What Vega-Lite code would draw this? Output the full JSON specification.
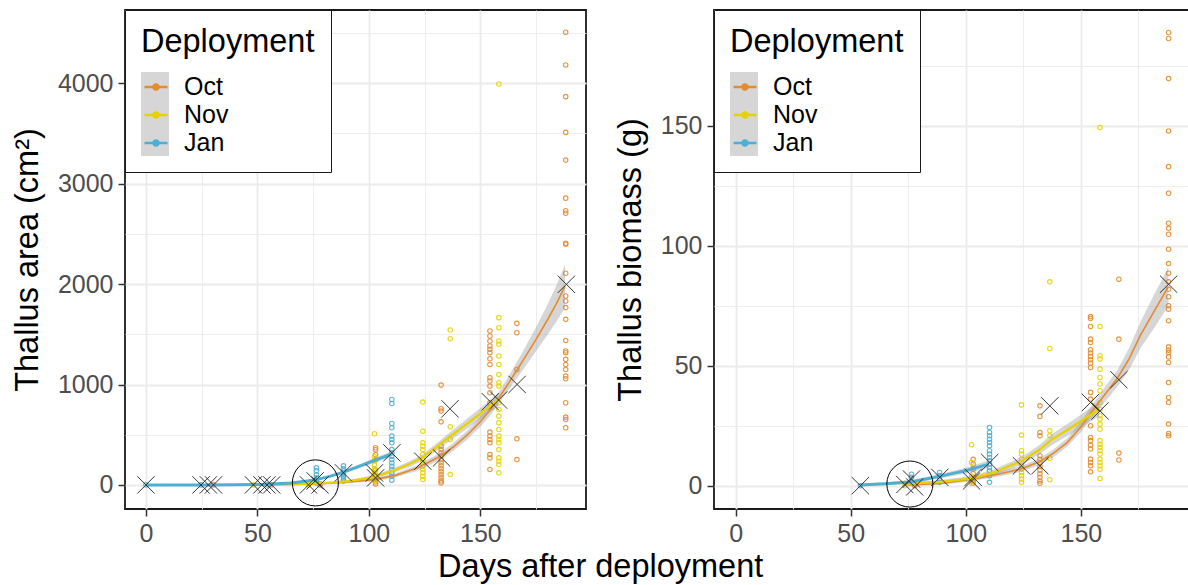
{
  "$schema": "https://vega.github.io/schema/vega-lite/v6.json",
  "background": "white",
  "padding": {"left": 10, "top": 8, "right": 0, "bottom": 0},
  "autosize": {"type": "pad"},
  "config": {
    "font": "Liberation Sans",
    "view": {"stroke": "#1a1a1a", "strokeWidth": 1.8},
    "axis": {
      "domain": false,
      "gridColor": "#EBEBEB",
      "tickColor": "#333333",
      "tickSize": 7,
      "tickWidth": 1.5,
      "labelFont": "Liberation Sans",
      "labelFontSize": 25,
      "labelColor": "#4D4D4D",
      "labelPadding": 5,
      "labelFlush": false,
      "labelOverlap": false,
      "titleFont": "Liberation Sans",
      "titleFontSize": 32.5,
      "titleFontWeight": "normal",
      "titleColor": "black",
      "titlePadding": 13
    },
    "legend": {
      "orient": "none",
      "legendX": 0,
      "legendY": 0,
      "padding": 16,
      "titleFont": "Liberation Sans",
      "titleFontSize": 32.5,
      "titleFontWeight": "normal",
      "titleColor": "black",
      "titlePadding": 13.5,
      "labelFont": "Liberation Sans",
      "labelFontSize": 25,
      "labelColor": "black",
      "labelOffset": 13,
      "rowPadding": 0
    }
  },
  "title": {
    "text": "Days after deployment",
    "orient": "bottom",
    "anchor": "middle",
    "font": "Liberation Sans",
    "fontSize": 32.5,
    "fontWeight": "normal",
    "color": "black",
    "offset": 4
  },
  "datasets": {
    "aPts": [
      {"d":"Oct","t":188.3,"v":4509},{"d":"Oct","t":188.3,"v":4183},{"d":"Oct","t":188.3,"v":3867},{"d":"Oct","t":188.3,"v":3511},{"d":"Oct","t":188.3,"v":3235},{"d":"Oct","t":188.3,"v":2856},{"d":"Oct","t":188.3,"v":2730},{"d":"Oct","t":188.3,"v":2706},{"d":"Oct","t":188.3,"v":2407},{"d":"Oct","t":188.3,"v":2397},{"d":"Oct","t":188.3,"v":2108},{"d":"Oct","t":188.3,"v":1882},{"d":"Oct","t":188.3,"v":1832},{"d":"Oct","t":188.3,"v":1766},{"d":"Oct","t":188.3,"v":1649},{"d":"Oct","t":188.3,"v":1439},{"d":"Oct","t":188.3,"v":1334},{"d":"Oct","t":188.3,"v":1317},{"d":"Oct","t":188.3,"v":1250},{"d":"Oct","t":188.3,"v":1200},{"d":"Oct","t":188.3,"v":1150},{"d":"Oct","t":188.3,"v":1084},{"d":"Oct","t":188.3,"v":1057},{"d":"Oct","t":188.3,"v":818},{"d":"Oct","t":188.3,"v":675},{"d":"Oct","t":188.3,"v":651},{"d":"Oct","t":188.3,"v":569},
      {"d":"Oct","t":166.4,"v":1609},{"d":"Oct","t":166.4,"v":1516},{"d":"Oct","t":166.4,"v":1150},{"d":"Oct","t":166.4,"v":459},{"d":"Oct","t":166.4,"v":252},
      {"d":"Oct","t":154.3,"v":1533},{"d":"Oct","t":154.3,"v":1483},{"d":"Oct","t":154.3,"v":1433},{"d":"Oct","t":154.3,"v":1383},{"d":"Oct","t":154.3,"v":1350},{"d":"Oct","t":154.3,"v":1317},{"d":"Oct","t":154.3,"v":1257},{"d":"Oct","t":154.3,"v":1200},{"d":"Oct","t":154.3,"v":1067},{"d":"Oct","t":154.3,"v":1034},{"d":"Oct","t":154.3,"v":984},{"d":"Oct","t":154.3,"v":918},{"d":"Oct","t":154.3,"v":818},{"d":"Oct","t":154.3,"v":768},{"d":"Oct","t":154.3,"v":526},{"d":"Oct","t":154.3,"v":486},{"d":"Oct","t":154.3,"v":452},{"d":"Oct","t":154.3,"v":419},{"d":"Oct","t":154.3,"v":302},{"d":"Oct","t":154.3,"v":269},{"d":"Oct","t":154.3,"v":153},
      {"d":"Oct","t":132.4,"v":994},{"d":"Oct","t":132.4,"v":758},{"d":"Oct","t":132.4,"v":735},{"d":"Oct","t":132.4,"v":628},{"d":"Oct","t":132.4,"v":386},{"d":"Oct","t":132.4,"v":352},{"d":"Oct","t":132.4,"v":320},{"d":"Oct","t":132.4,"v":290},{"d":"Oct","t":132.4,"v":250},{"d":"Oct","t":132.4,"v":220},{"d":"Oct","t":132.4,"v":190},{"d":"Oct","t":132.4,"v":160},{"d":"Oct","t":132.4,"v":130},{"d":"Oct","t":132.4,"v":100},{"d":"Oct","t":132.4,"v":70},{"d":"Oct","t":132.4,"v":40},{"d":"Oct","t":132.4,"v":20},
      {"d":"Oct","t":103,"v":370},{"d":"Oct","t":103,"v":350},{"d":"Oct","t":103,"v":300},{"d":"Oct","t":103,"v":250},{"d":"Oct","t":103,"v":150},{"d":"Oct","t":103,"v":100},{"d":"Oct","t":103,"v":60},{"d":"Oct","t":103,"v":30},{"d":"Oct","t":103,"v":10},
      {"d":"Oct","t":30.3,"v":0},{"d":"Oct","t":56.4,"v":0},{"d":"Oct","t":78.1,"v":0},{"d":"Oct","t":78.1,"v":10},
      {"d":"Nov","t":158.3,"v":3993},{"d":"Nov","t":158.3,"v":1666},{"d":"Nov","t":158.3,"v":1566},{"d":"Nov","t":158.3,"v":1433},{"d":"Nov","t":158.3,"v":1400},{"d":"Nov","t":158.3,"v":1284},{"d":"Nov","t":158.3,"v":1200},{"d":"Nov","t":158.3,"v":1100},{"d":"Nov","t":158.3,"v":1017},{"d":"Nov","t":158.3,"v":984},{"d":"Nov","t":158.3,"v":818},{"d":"Nov","t":158.3,"v":751},{"d":"Nov","t":158.3,"v":685},{"d":"Nov","t":158.3,"v":618},{"d":"Nov","t":158.3,"v":552},{"d":"Nov","t":158.3,"v":486},{"d":"Nov","t":158.3,"v":452},{"d":"Nov","t":158.3,"v":419},{"d":"Nov","t":158.3,"v":352},{"d":"Nov","t":158.3,"v":269},{"d":"Nov","t":158.3,"v":236},{"d":"Nov","t":158.3,"v":203},{"d":"Nov","t":158.3,"v":120},
      {"d":"Nov","t":136.5,"v":1543},{"d":"Nov","t":136.5,"v":1456},{"d":"Nov","t":136.5,"v":579},{"d":"Nov","t":136.5,"v":452},{"d":"Nov","t":136.5,"v":103},
      {"d":"Nov","t":124.2,"v":825},{"d":"Nov","t":124.2,"v":535},{"d":"Nov","t":124.2,"v":419},{"d":"Nov","t":124.2,"v":386},{"d":"Nov","t":124.2,"v":352},{"d":"Nov","t":124.2,"v":303},{"d":"Nov","t":124.2,"v":252},{"d":"Nov","t":124.2,"v":219},{"d":"Nov","t":124.2,"v":186},{"d":"Nov","t":124.2,"v":153},{"d":"Nov","t":124.2,"v":120},{"d":"Nov","t":124.2,"v":87},{"d":"Nov","t":124.2,"v":53},
      {"d":"Nov","t":102.5,"v":509},{"d":"Nov","t":102.5,"v":280},{"d":"Nov","t":102.5,"v":240},{"d":"Nov","t":102.5,"v":200},{"d":"Nov","t":102.5,"v":160},{"d":"Nov","t":102.5,"v":140},{"d":"Nov","t":102.5,"v":120},{"d":"Nov","t":102.5,"v":100},{"d":"Nov","t":102.5,"v":80},{"d":"Nov","t":102.5,"v":60},{"d":"Nov","t":102.5,"v":40},
      {"d":"Nov","t":48.2,"v":0},{"d":"Nov","t":72.9,"v":0},{"d":"Nov","t":72.9,"v":10},
      {"d":"Jan","t":110.3,"v":851},{"d":"Jan","t":110.3,"v":811},{"d":"Jan","t":110.3,"v":612},{"d":"Jan","t":110.3,"v":569},{"d":"Jan","t":110.3,"v":486},{"d":"Jan","t":110.3,"v":452},{"d":"Jan","t":110.3,"v":419},{"d":"Jan","t":110.3,"v":352},{"d":"Jan","t":110.3,"v":319},{"d":"Jan","t":110.3,"v":286},{"d":"Jan","t":110.3,"v":252},{"d":"Jan","t":110.3,"v":219},{"d":"Jan","t":110.3,"v":186},{"d":"Jan","t":110.3,"v":153},{"d":"Jan","t":110.3,"v":120},{"d":"Jan","t":110.3,"v":87},{"d":"Jan","t":110.3,"v":47},
      {"d":"Jan","t":88.6,"v":190},{"d":"Jan","t":88.6,"v":160},{"d":"Jan","t":88.6,"v":140},{"d":"Jan","t":88.6,"v":120},{"d":"Jan","t":88.6,"v":100},{"d":"Jan","t":88.6,"v":80},{"d":"Jan","t":88.6,"v":60},{"d":"Jan","t":88.6,"v":40},
      {"d":"Jan","t":76.5,"v":170},{"d":"Jan","t":76.5,"v":140},{"d":"Jan","t":76.5,"v":100},{"d":"Jan","t":76.5,"v":70},{"d":"Jan","t":76.5,"v":40},{"d":"Jan","t":76.5,"v":20},
      {"d":"Jan","t":0,"v":0},{"d":"Jan","t":24.7,"v":0},{"d":"Jan","t":54.3,"v":0}
    ],
    "aFit": [
      {"d":"Oct","t":30,"v":0,"lo":-2,"hi":2},{"d":"Oct","t":45,"v":1,"lo":-2,"hi":4},{"d":"Oct","t":56,"v":2,"lo":-2,"hi":6},{"d":"Oct","t":70,"v":7,"lo":1,"hi":13},{"d":"Oct","t":78,"v":12,"lo":4,"hi":20},{"d":"Oct","t":90,"v":28,"lo":16,"hi":40},{"d":"Oct","t":103,"v":55,"lo":39,"hi":71},{"d":"Oct","t":112,"v":95,"lo":75,"hi":115},{"d":"Oct","t":122,"v":170,"lo":142,"hi":198},{"d":"Oct","t":132,"v":285,"lo":250,"hi":320},{"d":"Oct","t":138,"v":380,"lo":340,"hi":420},{"d":"Oct","t":144,"v":495,"lo":450,"hi":540},{"d":"Oct","t":150,"v":630,"lo":580,"hi":680},{"d":"Oct","t":154,"v":735,"lo":680,"hi":790},{"d":"Oct","t":158,"v":855,"lo":795,"hi":915},{"d":"Oct","t":162,"v":990,"lo":922,"hi":1058},{"d":"Oct","t":166,"v":1130,"lo":1052,"hi":1208},{"d":"Oct","t":170,"v":1270,"lo":1175,"hi":1365},{"d":"Oct","t":175,"v":1450,"lo":1330,"hi":1570},{"d":"Oct","t":180,"v":1640,"lo":1490,"hi":1790},{"d":"Oct","t":184,"v":1800,"lo":1620,"hi":1980},{"d":"Oct","t":188,"v":1980,"lo":1765,"hi":2195},
      {"d":"Nov","t":48,"v":0,"lo":-3,"hi":3},{"d":"Nov","t":60,"v":3,"lo":-1,"hi":7},{"d":"Nov","t":73,"v":10,"lo":4,"hi":16},{"d":"Nov","t":85,"v":25,"lo":15,"hi":35},{"d":"Nov","t":92,"v":40,"lo":28,"hi":52},{"d":"Nov","t":102,"v":78,"lo":60,"hi":96},{"d":"Nov","t":110,"v":135,"lo":113,"hi":157},{"d":"Nov","t":118,"v":205,"lo":177,"hi":233},{"d":"Nov","t":124,"v":272,"lo":240,"hi":304},{"d":"Nov","t":130,"v":370,"lo":332,"hi":408},{"d":"Nov","t":136,"v":475,"lo":433,"hi":517},{"d":"Nov","t":142,"v":575,"lo":527,"hi":623},{"d":"Nov","t":150,"v":710,"lo":655,"hi":765},{"d":"Nov","t":158,"v":850,"lo":785,"hi":915},
      {"d":"Jan","t":0,"v":0,"lo":-2,"hi":2},{"d":"Jan","t":25,"v":0,"lo":-3,"hi":3},{"d":"Jan","t":40,"v":2,"lo":-2,"hi":6},{"d":"Jan","t":54,"v":6,"lo":1,"hi":11},{"d":"Jan","t":65,"v":20,"lo":14,"hi":26},{"d":"Jan","t":76,"v":50,"lo":41,"hi":59},{"d":"Jan","t":82,"v":82,"lo":71,"hi":93},{"d":"Jan","t":88,"v":122,"lo":108,"hi":136},{"d":"Jan","t":95,"v":180,"lo":162,"hi":198},{"d":"Jan","t":102,"v":240,"lo":218,"hi":262},{"d":"Jan","t":110,"v":305,"lo":277,"hi":333}
    ],
    "aMean": [
      {"d":"Jan","t":0,"v":0},{"d":"Jan","t":24.7,"v":0},{"d":"Jan","t":54.3,"v":0},{"d":"Jan","t":75.9,"v":40},{"d":"Jan","t":88.6,"v":120},{"d":"Jan","t":110.3,"v":319},
      {"d":"Nov","t":28,"v":0},{"d":"Nov","t":48.2,"v":0},{"d":"Nov","t":72.9,"v":0},{"d":"Nov","t":102.5,"v":120},{"d":"Nov","t":124.2,"v":236},{"d":"Nov","t":136.4,"v":758},{"d":"Nov","t":158.2,"v":845},
      {"d":"Oct","t":30.3,"v":0},{"d":"Oct","t":52,"v":0},{"d":"Oct","t":56.4,"v":0},{"d":"Oct","t":78.1,"v":0},{"d":"Oct","t":103,"v":70},{"d":"Oct","t":132.6,"v":269},{"d":"Oct","t":154.5,"v":828},{"d":"Oct","t":166.5,"v":1001},{"d":"Oct","t":188.6,"v":1998}
    ],
    "aCirc": [{"t":76,"v":20}],
    "bPts": [
      {"d":"Oct","t":188.1,"v":188.9},{"d":"Oct","t":188.1,"v":186.4},{"d":"Oct","t":188.1,"v":169.7},{"d":"Oct","t":188.1,"v":147.9},{"d":"Oct","t":188.1,"v":133},{"d":"Oct","t":188.1,"v":121.9},{"d":"Oct","t":188.1,"v":109.4},{"d":"Oct","t":188.1,"v":107.3},{"d":"Oct","t":188.1,"v":104.8},{"d":"Oct","t":188.1,"v":98.6},{"d":"Oct","t":188.1,"v":92.6},{"d":"Oct","t":188.1,"v":88.6},{"d":"Oct","t":188.1,"v":85},{"d":"Oct","t":188.1,"v":81.9},{"d":"Oct","t":188.1,"v":78.8},{"d":"Oct","t":188.1,"v":75},{"d":"Oct","t":188.1,"v":73.6},{"d":"Oct","t":188.1,"v":68.8},{"d":"Oct","t":188.1,"v":57.9},{"d":"Oct","t":188.1,"v":56.5},{"d":"Oct","t":188.1,"v":55.5},{"d":"Oct","t":188.1,"v":53.7},{"d":"Oct","t":188.1,"v":51.4},{"d":"Oct","t":188.1,"v":43},{"d":"Oct","t":188.1,"v":36.8},{"d":"Oct","t":188.1,"v":34.7},{"d":"Oct","t":188.1,"v":25.7},{"d":"Oct","t":188.1,"v":21.8},{"d":"Oct","t":188.1,"v":20.8},
      {"d":"Oct","t":166.5,"v":86.1},{"d":"Oct","t":166.5,"v":61.1},{"d":"Oct","t":166.5,"v":13.6},{"d":"Oct","t":166.5,"v":10.7},
      {"d":"Oct","t":154.2,"v":70.5},{"d":"Oct","t":154.2,"v":69.7},{"d":"Oct","t":154.2,"v":66.4},{"d":"Oct","t":154.2,"v":61.1},{"d":"Oct","t":154.2,"v":59.7},{"d":"Oct","t":154.2,"v":56.7},{"d":"Oct","t":154.2,"v":55.3},{"d":"Oct","t":154.2,"v":53.9},{"d":"Oct","t":154.2,"v":52.5},{"d":"Oct","t":154.2,"v":51.1},{"d":"Oct","t":154.2,"v":49.3},{"d":"Oct","t":154.2,"v":38.9},{"d":"Oct","t":154.2,"v":36.1},{"d":"Oct","t":154.2,"v":25},{"d":"Oct","t":154.2,"v":20.1},{"d":"Oct","t":154.2,"v":18.8},{"d":"Oct","t":154.2,"v":16.9},{"d":"Oct","t":154.2,"v":15.3},{"d":"Oct","t":154.2,"v":11.1},{"d":"Oct","t":154.2,"v":9.7},{"d":"Oct","t":154.2,"v":8.3},{"d":"Oct","t":154.2,"v":5.8},
      {"d":"Oct","t":132.2,"v":33.3},{"d":"Oct","t":132.2,"v":28.9},{"d":"Oct","t":132.2,"v":22.2},{"d":"Oct","t":132.2,"v":20.8},{"d":"Oct","t":132.2,"v":12.5},{"d":"Oct","t":132.2,"v":11},{"d":"Oct","t":132.2,"v":9.5},{"d":"Oct","t":132.2,"v":8},{"d":"Oct","t":132.2,"v":6.5},{"d":"Oct","t":132.2,"v":5},{"d":"Oct","t":132.2,"v":3.5},{"d":"Oct","t":132.2,"v":2},{"d":"Oct","t":132.2,"v":1},
      {"d":"Oct","t":103.2,"v":11},{"d":"Oct","t":103.2,"v":9},{"d":"Oct","t":103.2,"v":7},{"d":"Oct","t":103.2,"v":5},{"d":"Oct","t":103.2,"v":3},{"d":"Oct","t":103.2,"v":2},{"d":"Oct","t":103.2,"v":1},
      {"d":"Oct","t":77.8,"v":0},
      {"d":"Nov","t":158.3,"v":149.3},{"d":"Nov","t":158.3,"v":66.4},{"d":"Nov","t":158.3,"v":54.2},{"d":"Nov","t":158.3,"v":52.8},{"d":"Nov","t":158.3,"v":48.6},{"d":"Nov","t":158.3,"v":45.1},{"d":"Nov","t":158.3,"v":42.4},{"d":"Nov","t":158.3,"v":39.6},{"d":"Nov","t":158.3,"v":34.7},{"d":"Nov","t":158.3,"v":31.9},{"d":"Nov","t":158.3,"v":29.2},{"d":"Nov","t":158.3,"v":27.8},{"d":"Nov","t":158.3,"v":25.7},{"d":"Nov","t":158.3,"v":23.6},{"d":"Nov","t":158.3,"v":18.8},{"d":"Nov","t":158.3,"v":17.3},{"d":"Nov","t":158.3,"v":16},{"d":"Nov","t":158.3,"v":14.6},{"d":"Nov","t":158.3,"v":13.2},{"d":"Nov","t":158.3,"v":11.1},{"d":"Nov","t":158.3,"v":9.7},{"d":"Nov","t":158.3,"v":8.3},{"d":"Nov","t":158.3,"v":6.9},{"d":"Nov","t":158.3,"v":3},
      {"d":"Nov","t":136.5,"v":85},{"d":"Nov","t":136.5,"v":57.2},{"d":"Nov","t":136.5,"v":22.9},{"d":"Nov","t":136.5,"v":20.8},{"d":"Nov","t":136.5,"v":11.4},{"d":"Nov","t":136.5,"v":2.5},
      {"d":"Nov","t":124.2,"v":33.7},{"d":"Nov","t":124.2,"v":21.1},{"d":"Nov","t":124.2,"v":14.6},{"d":"Nov","t":124.2,"v":13.2},{"d":"Nov","t":124.2,"v":11.1},{"d":"Nov","t":124.2,"v":9.7},{"d":"Nov","t":124.2,"v":8.3},{"d":"Nov","t":124.2,"v":6.9},{"d":"Nov","t":124.2,"v":5.5},{"d":"Nov","t":124.2,"v":4.2},{"d":"Nov","t":124.2,"v":2.8},{"d":"Nov","t":124.2,"v":1.4},
      {"d":"Nov","t":102.5,"v":17.1},{"d":"Nov","t":102.5,"v":9.7},{"d":"Nov","t":102.5,"v":4},{"d":"Nov","t":102.5,"v":3},{"d":"Nov","t":102.5,"v":2},{"d":"Nov","t":102.5,"v":1},
      {"d":"Nov","t":73.5,"v":0},{"d":"Nov","t":73.5,"v":1},
      {"d":"Jan","t":110.3,"v":24.3},{"d":"Jan","t":110.3,"v":22.2},{"d":"Jan","t":110.3,"v":20.8},{"d":"Jan","t":110.3,"v":19.4},{"d":"Jan","t":110.3,"v":18},{"d":"Jan","t":110.3,"v":16.7},{"d":"Jan","t":110.3,"v":14.6},{"d":"Jan","t":110.3,"v":13.2},{"d":"Jan","t":110.3,"v":11.8},{"d":"Jan","t":110.3,"v":10.4},{"d":"Jan","t":110.3,"v":9},{"d":"Jan","t":110.3,"v":7.6},{"d":"Jan","t":110.3,"v":6.2},{"d":"Jan","t":110.3,"v":4.2},{"d":"Jan","t":110.3,"v":1.4},
      {"d":"Jan","t":88.6,"v":5.5},{"d":"Jan","t":88.6,"v":4.2},{"d":"Jan","t":88.6,"v":2.8},{"d":"Jan","t":88.6,"v":1.4},
      {"d":"Jan","t":76.4,"v":4.8},{"d":"Jan","t":76.4,"v":3.5},{"d":"Jan","t":76.4,"v":1.4},
      {"d":"Jan","t":54.2,"v":0}
    ],
    "bFit": [
      {"d":"Oct","t":75,"v":0.3,"lo":-0.2,"hi":0.8},{"d":"Oct","t":89,"v":1,"lo":0.4,"hi":1.6},{"d":"Oct","t":103,"v":2.8,"lo":2,"hi":3.6},{"d":"Oct","t":115,"v":5,"lo":4,"hi":6},{"d":"Oct","t":124,"v":7,"lo":5.8,"hi":8.2},{"d":"Oct","t":132,"v":10,"lo":8.6,"hi":11.4},{"d":"Oct","t":138,"v":13.5,"lo":11.9,"hi":15.1},{"d":"Oct","t":144,"v":18,"lo":16.2,"hi":19.8},{"d":"Oct","t":150,"v":24.5,"lo":22.3,"hi":26.7},{"d":"Oct","t":154,"v":30,"lo":27.5,"hi":32.5},{"d":"Oct","t":160,"v":37.5,"lo":34.5,"hi":40.5},{"d":"Oct","t":166,"v":45,"lo":41.5,"hi":48.5},{"d":"Oct","t":171,"v":53,"lo":48.5,"hi":57.5},{"d":"Oct","t":176,"v":63,"lo":57.5,"hi":68.5},{"d":"Oct","t":182,"v":73,"lo":66,"hi":80},{"d":"Oct","t":188,"v":83,"lo":75,"hi":91},
      {"d":"Nov","t":73,"v":0.8,"lo":0,"hi":1.6},{"d":"Nov","t":88,"v":1.5,"lo":0.7,"hi":2.3},{"d":"Nov","t":102,"v":3,"lo":2,"hi":4},{"d":"Nov","t":112,"v":5.5,"lo":4.2,"hi":6.8},{"d":"Nov","t":124,"v":10.2,"lo":8.6,"hi":11.8},{"d":"Nov","t":132,"v":15,"lo":13,"hi":17},{"d":"Nov","t":137,"v":19,"lo":16.7,"hi":21.3},{"d":"Nov","t":147,"v":25,"lo":22.4,"hi":27.6},{"d":"Nov","t":158,"v":32,"lo":29,"hi":35},
      {"d":"Jan","t":54,"v":0.3,"lo":-0.3,"hi":0.9},{"d":"Jan","t":65,"v":0.8,"lo":0.2,"hi":1.4},{"d":"Jan","t":76,"v":1.6,"lo":0.9,"hi":2.3},{"d":"Jan","t":88,"v":3.8,"lo":2.9,"hi":4.7},{"d":"Jan","t":100,"v":6.3,"lo":5.1,"hi":7.5},{"d":"Jan","t":110,"v":9,"lo":7.4,"hi":10.6}
    ],
    "bMean": [
      {"d":"Jan","t":54.2,"v":0},{"d":"Nov","t":73.5,"v":0.5},{"d":"Jan","t":76.4,"v":2.8},{"d":"Oct","t":77.8,"v":-0.5},{"d":"Jan","t":88.7,"v":3.5},{"d":"Nov","t":102.5,"v":2},{"d":"Oct","t":103.2,"v":3.5},{"d":"Jan","t":110.4,"v":9.7},{"d":"Nov","t":124.2,"v":8.3},{"d":"Oct","t":132.2,"v":8.3},{"d":"Nov","t":136.5,"v":33.3},{"d":"Oct","t":154.2,"v":34.7},{"d":"Nov","t":158.3,"v":31.2},{"d":"Oct","t":166.5,"v":44.2},{"d":"Oct","t":188.1,"v":84}
    ],
    "bCirc": [{"t":75.7,"v":0.7}]
  },
  "spacing": 26,
  "resolve": {"scale": {"x": "independent", "y": "independent"}, "legend": {"color": "independent", "fill": "independent"}},
  "hconcat": [
    {
      "width": 461,
      "height": 499,
      "encoding": {
        "x": {
          "field": "t", "type": "quantitative",
          "scale": {"domain": [-9.4, 197.4], "nice": false, "zero": false},
          "axis": {
            "title": null,
            "values": [0, 25, 50, 75, 100, 125, 150, 175],
            "labelExpr": "datum.value % 50 === 0 ? datum.label : ''",
            "tickOpacity": {"condition": {"test": "datum.value % 50 === 0", "value": 1}, "value": 0},
            "gridWidth": {"condition": {"test": "datum.value % 50 === 0", "value": 1.8}, "value": 0.9}
          }
        },
        "y": {
          "field": "v", "type": "quantitative", "title": "Thallus area (cm²)",
          "scale": {"domain": [-240, 4730], "nice": false, "zero": false},
          "axis": {
            "format": "d",
            "values": [0, 500, 1000, 1500, 2000, 2500, 3000, 3500, 4000, 4500],
            "labelExpr": "datum.value % 1000 === 0 ? datum.label : ''",
            "tickOpacity": {"condition": {"test": "datum.value % 1000 === 0", "value": 1}, "value": 0},
            "gridWidth": {"condition": {"test": "datum.value % 1000 === 0", "value": 1.8}, "value": 0.9}
          }
        }
      },
      "layer": [
        {
          "data": {"name": "aPts"},
          "mark": {"type": "point", "filled": false, "size": 20, "strokeWidth": 1.1, "opacity": 0.9},
          "encoding": {
            "color": {
              "field": "d", "type": "nominal",
              "scale": {"domain": ["Oct", "Nov", "Jan"], "range": ["#E38B2F", "#E6D200", "#4EAFD5"]},
              "legend": {
                "title": "Deployment",
                "zindex": 2,
                "strokeColor": "#1a1a1a",
                "symbolSize": 729,
                "symbolStrokeWidth": 2.5,
                "symbolOpacity": 1,
                "symbolType": "M-0.85,0L0.85,0M-0.185,0A0.185,0.185,0,1,0,0.185,0A0.185,0.185,0,1,0,-0.185,0"
              }
            }
          }
        },
        {
          "data": {"name": "aFit"},
          "mark": {"type": "area", "opacity": 0.4},
          "encoding": {
            "y": {"field": "lo", "type": "quantitative", "title": "Thallus area (cm²)"},
            "y2": {"field": "hi"},
            "fill": {
              "field": "d", "type": "nominal",
              "scale": {"domain": ["Jan", "Nov", "Oct"], "range": ["#999999", "#999999", "#999999"]},
              "legend": {
                "title": "Deployment",
                "zindex": 1,
                "fillColor": "white",
                "titleOpacity": 0,
                "labelExpr": "''",
                "symbolType": "square",
                "symbolSize": 784,
                "symbolStrokeWidth": 0,
                "symbolOpacity": 0.4
              }
            }
          }
        },
        {
          "data": {"name": "aFit"},
          "mark": {"type": "line"},
          "encoding": {
            "color": {"field": "d", "type": "nominal", "legend": null},
            "strokeWidth": {"field": "d", "type": "nominal", "scale": {"domain": ["Oct", "Nov", "Jan"], "range": [1.6, 3, 3]}, "legend": null}
          }
        },
        {
          "data": {"name": "aMean"},
          "mark": {"type": "point", "shape": "M-1,-1L1,1M-1,1L1,-1", "size": 300, "filled": false, "stroke": "#222222", "strokeWidth": 1, "opacity": 0.9},
          "encoding": {}
        },
        {
          "data": {"name": "aCirc"},
          "mark": {"type": "point", "shape": "circle", "size": 2124, "filled": false, "stroke": "black", "strokeWidth": 1, "opacity": 1},
          "encoding": {}
        }
      ]
    },
    {
      "width": 476,
      "height": 499,
      "encoding": {
        "x": {
          "field": "t", "type": "quantitative",
          "scale": {"domain": [-9.4, 197.4], "nice": false, "zero": false},
          "axis": {
            "title": null,
            "values": [0, 25, 50, 75, 100, 125, 150, 175],
            "labelExpr": "datum.value % 50 === 0 ? datum.label : ''",
            "tickOpacity": {"condition": {"test": "datum.value % 50 === 0", "value": 1}, "value": 0},
            "gridWidth": {"condition": {"test": "datum.value % 50 === 0", "value": 1.8}, "value": 0.9}
          }
        },
        "y": {
          "field": "v", "type": "quantitative", "title": "Thallus biomass (g)",
          "scale": {"domain": [-9.7, 198.3], "nice": false, "zero": false},
          "axis": {
            "format": "d",
            "values": [0, 25, 50, 75, 100, 125, 150, 175],
            "labelExpr": "datum.value % 50 === 0 ? datum.label : ''",
            "tickOpacity": {"condition": {"test": "datum.value % 50 === 0", "value": 1}, "value": 0},
            "gridWidth": {"condition": {"test": "datum.value % 50 === 0", "value": 1.8}, "value": 0.9}
          }
        }
      },
      "layer": [
        {
          "data": {"name": "bPts"},
          "mark": {"type": "point", "filled": false, "size": 20, "strokeWidth": 1.1, "opacity": 0.9},
          "encoding": {
            "color": {
              "field": "d", "type": "nominal",
              "scale": {"domain": ["Oct", "Nov", "Jan"], "range": ["#E38B2F", "#E6D200", "#4EAFD5"]},
              "legend": {
                "title": "Deployment",
                "zindex": 2,
                "strokeColor": "#1a1a1a",
                "symbolSize": 729,
                "symbolStrokeWidth": 2.5,
                "symbolOpacity": 1,
                "symbolType": "M-0.85,0L0.85,0M-0.185,0A0.185,0.185,0,1,0,0.185,0A0.185,0.185,0,1,0,-0.185,0"
              }
            }
          }
        },
        {
          "data": {"name": "bFit"},
          "mark": {"type": "area", "opacity": 0.4},
          "encoding": {
            "y": {"field": "lo", "type": "quantitative", "title": "Thallus biomass (g)"},
            "y2": {"field": "hi"},
            "fill": {
              "field": "d", "type": "nominal",
              "scale": {"domain": ["Jan", "Nov", "Oct"], "range": ["#999999", "#999999", "#999999"]},
              "legend": {
                "title": "Deployment",
                "zindex": 1,
                "fillColor": "white",
                "titleOpacity": 0,
                "labelExpr": "''",
                "symbolType": "square",
                "symbolSize": 784,
                "symbolStrokeWidth": 0,
                "symbolOpacity": 0.4
              }
            }
          }
        },
        {
          "data": {"name": "bFit"},
          "mark": {"type": "line"},
          "encoding": {
            "color": {"field": "d", "type": "nominal", "legend": null},
            "strokeWidth": {"field": "d", "type": "nominal", "scale": {"domain": ["Oct", "Nov", "Jan"], "range": [1.6, 3, 3]}, "legend": null}
          }
        },
        {
          "data": {"name": "bMean"},
          "mark": {"type": "point", "shape": "M-1,-1L1,1M-1,1L1,-1", "size": 300, "filled": false, "stroke": "#222222", "strokeWidth": 1, "opacity": 0.9},
          "encoding": {}
        },
        {
          "data": {"name": "bCirc"},
          "mark": {"type": "point", "shape": "circle", "size": 2124, "filled": false, "stroke": "black", "strokeWidth": 1, "opacity": 1},
          "encoding": {}
        }
      ]
    }
  ]
}
